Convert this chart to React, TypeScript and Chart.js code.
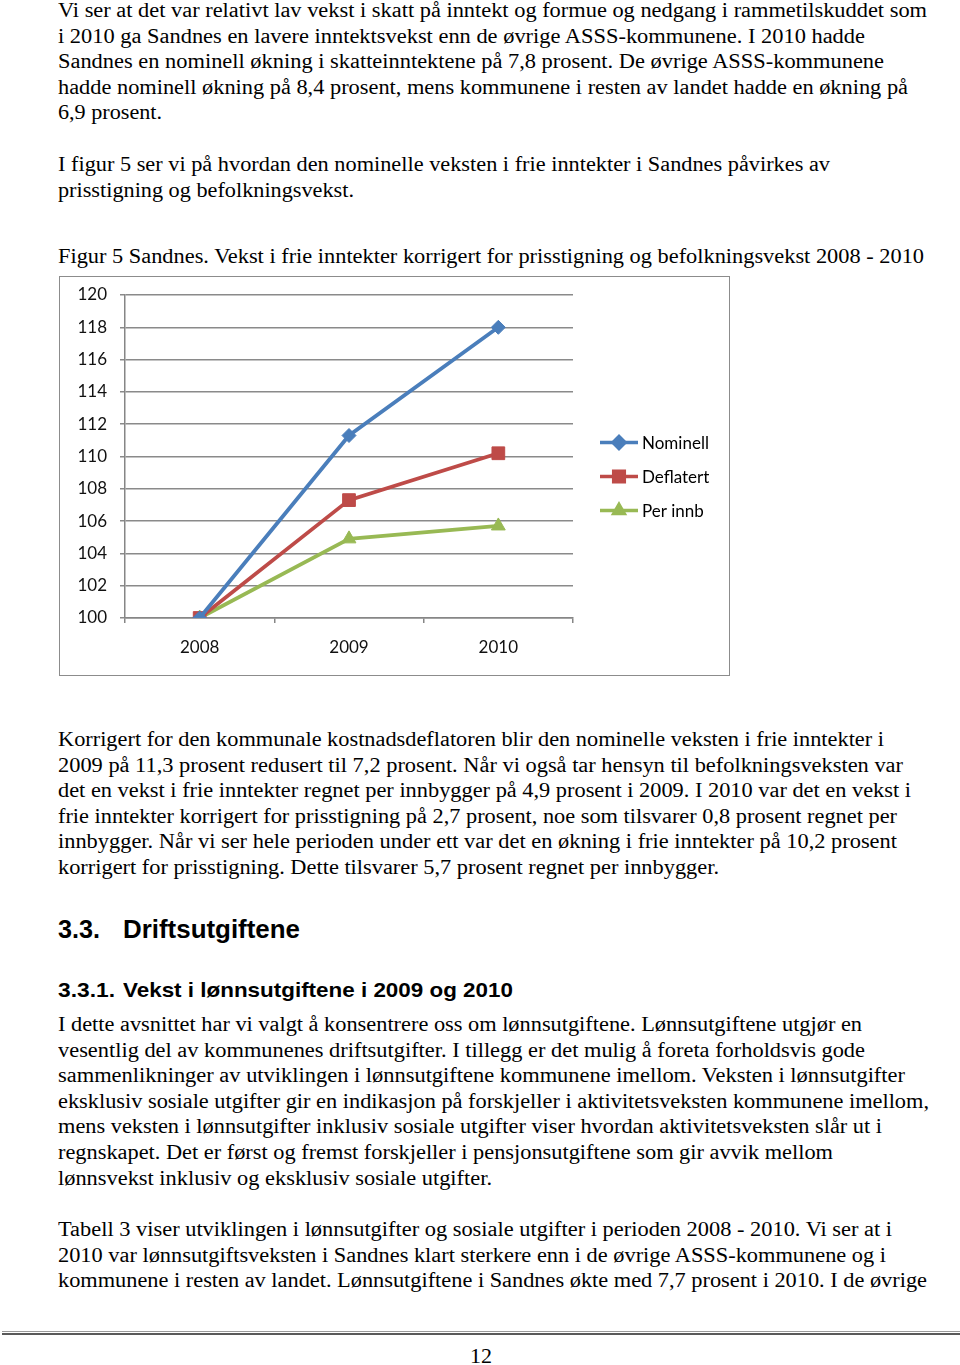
import React, { useEffect, useLayoutEffect, useRef } from "react";
import { Chart, registerables } from "chart.js";
import { drawPoint } from "chart.js/helpers";

Chart.register(...registerables);

// ---------- chart data ----------
const categories = ["2008", "2009", "2010"];
const nominell = [100, 111.3, 118.0];
const deflatert = [100, 107.3, 110.2];
const perInnb = [100, 104.9, 105.7];
const seriesNames = ["Nominell", "Deflatert", "Per innb"];
const yMin = 100;
const yMax = 120;
const yStep = 2;

// ---------- page text ----------
const para1 = [
  "Vi ser at det var relativt lav vekst i skatt på inntekt og formue og nedgang i rammetilskuddet som",
  "i 2010 ga Sandnes en lavere inntektsvekst enn de øvrige ASSS-kommunene. I 2010 hadde",
  "Sandnes en nominell økning i skatteinntektene på 7,8 prosent. De øvrige ASSS-kommunene",
  "hadde nominell økning på 8,4 prosent, mens kommunene i resten av landet hadde en økning på",
  "6,9 prosent.",
];
const para2 = [
  "I figur 5 ser vi på hvordan den nominelle veksten i frie inntekter i Sandnes påvirkes av",
  "prisstigning og befolkningsvekst.",
];
const caption = [
  "Figur 5 Sandnes. Vekst i frie inntekter korrigert for prisstigning og befolkningsvekst 2008 - 2010",
];
const para3 = [
  "Korrigert for den kommunale kostnadsdeflatoren blir den nominelle veksten i frie inntekter i",
  "2009 på 11,3 prosent redusert til 7,2 prosent. Når vi også tar hensyn til befolkningsveksten var",
  "det en vekst i frie inntekter regnet per innbygger på 4,9 prosent i 2009. I 2010 var det en vekst i",
  "frie inntekter korrigert for prisstigning på 2,7 prosent, noe som tilsvarer 0,8 prosent regnet per",
  "innbygger. Når vi ser hele perioden under ett var det en økning i frie inntekter på 10,2 prosent",
  "korrigert for prisstigning. Dette tilsvarer 5,7 prosent regnet per innbygger.",
];
const heading1 = ["3.3.", "Driftsutgiftene"];
const heading2 = ["3.3.1.", "Vekst i lønnsutgiftene i 2009 og 2010"];
const para4 = [
  "I dette avsnittet har vi valgt å konsentrere oss om lønnsutgiftene. Lønnsutgiftene utgjør en",
  "vesentlig del av kommunenes driftsutgifter. I tillegg er det mulig å foreta forholdsvis gode",
  "sammenlikninger av utviklingen i lønnsutgiftene kommunene imellom. Veksten i lønnsutgifter",
  "eksklusiv sosiale utgifter gir en indikasjon på forskjeller i aktivitetsveksten kommunene imellom,",
  "mens veksten i lønnsutgifter inklusiv sosiale utgifter viser hvordan aktivitetsveksten slår ut i",
  "regnskapet. Det er først og fremst forskjeller i pensjonsutgiftene som gir avvik mellom",
  "lønnsvekst inklusiv og eksklusiv sosiale utgifter.",
];
const para5 = [
  "Tabell 3 viser utviklingen i lønnsutgifter og sosiale utgifter i perioden 2008 - 2010. Vi ser at i",
  "2010 var lønnsutgiftsveksten i Sandnes klart sterkere enn i de øvrige ASSS-kommunene og i",
  "kommunene i resten av landet. Lønnsutgiftene i Sandnes økte med 7,7 prosent i 2010. I de øvrige",
];
const pageNumber = "12";

// ---------- layout (positions only) ----------
const LEFT = 58;
const PITCH = 25.6;
const para1Layout = { y: 10, rights: [927, 865, 884, 908, 162] };
const para2Layout = { y: 164, rights: [830, 354] };
const captionLayout = { y: 256, rights: [924] };
const para3Layout = { y: 739, rights: [884, 903, 911, 897, 897, 719] };
const para4Layout = { y: 1024, rights: [862, 865, 905, 929, 882, 833, 492] };
const para5Layout = { y: 1229, rights: [892, 886, 927] };

const SERIF = "'Liberation Serif', 'Times New Roman', serif";
const SANS = "'Liberation Sans', Arial, sans-serif";
const CHART_FONT = "Lato, 'Open Sans', sans-serif";

const COLORS = ["#4a7ebb", "#be4b48", "#98b954"];
const POINT_STYLES: any[] = ["rectRot", "rect", "triangle"];

type FitProps = {
  text: string;
  x: number;
  cy: number;
  right: number;
  family: string;
  size: number;
  weight?: number;
  lh?: number;
};

function FitLine({ text, x, cy, right, family, size, weight = 400, lh = 26 }: FitProps) {
  const ref = useRef<HTMLSpanElement>(null);
  useLayoutEffect(() => {
    const el = ref.current;
    if (!el) return;
    el.style.transform = "none";
    const w = el.getBoundingClientRect().width;
    const target = right - x;
    if (w > 0) el.style.transform = `scaleX(${target / w})`;
  }, [text, x, right, family, size, weight]);
  return (
    <span
      ref={ref}
      style={{
        position: "absolute",
        left: x,
        top: cy - lh / 2,
        whiteSpace: "pre",
        fontFamily: family,
        fontSize: size,
        fontWeight: weight,
        lineHeight: `${lh}px`,
        display: "inline-block",
        transformOrigin: "0 50%",
        color: "#000",
      }}
    >
      {text}
    </span>
  );
}

function Paragraph({ lines, layout }: { lines: string[]; layout: { y: number; rights: number[] } }) {
  return (
    <>
      {lines.map((t, i) => (
        <FitLine
          key={i}
          text={t}
          x={LEFT}
          cy={layout.y + i * PITCH}
          right={layout.rights[i]}
          family={SERIF}
          size={20.5}
        />
      ))}
    </>
  );
}

const legendPlugin = {
  id: "sideLegend",
  afterDraw(chart: any) {
    const { ctx, chartArea } = chart;
    const x0 = chartArea.right + 27;
    const cy = (chartArea.top + chartArea.bottom) / 2 - 14;
    ctx.save();
    chart.data.datasets.forEach((ds: any, i: number) => {
      const y = cy + i * 34;
      ctx.strokeStyle = ds.borderColor;
      ctx.lineWidth = 3.5;
      ctx.beginPath();
      ctx.moveTo(x0, y);
      ctx.lineTo(x0 + 38, y);
      ctx.stroke();
      ctx.fillStyle = ds.borderColor;
      drawPoint(ctx, {
        pointStyle: ds.pointStyle,
        radius: ds.pointStyle === "rect" ? 7.5 : 6,
        borderWidth: 1,
        rotation: 0,
      } as any, x0 + 19, y);
      ctx.fillStyle = "#000";
      ctx.font = `17px ${CHART_FONT}`;
      ctx.textBaseline = "middle";
      ctx.textAlign = "left";
      ctx.fillText(ds.label, x0 + 42, y + 1);
    });
    ctx.restore();
  },
};

function LineChart() {
  const canvasRef = useRef<HTMLCanvasElement>(null);
  useEffect(() => {
    const canvas = canvasRef.current;
    if (!canvas) return;
    const series = [nominell, deflatert, perInnb];
    const chart = new Chart(canvas, {
      type: "line",
      data: {
        labels: categories,
        datasets: series.map((d, i) => ({
          label: seriesNames[i],
          data: d,
          borderColor: COLORS[i],
          backgroundColor: COLORS[i],
          borderWidth: 3.8,
          pointStyle: POINT_STYLES[i],
          pointRadius: i === 1 ? 9 : i === 0 ? 7 : 8,
          pointBorderWidth: 1,
          pointBackgroundColor: COLORS[i],
          pointBorderColor: COLORS[i],
          tension: 0,
        })),
      },
      options: {
        responsive: false,
        animation: false,
        layout: { padding: { left: 0, top: 18, right: 156, bottom: 0 } },
        plugins: {
          legend: { display: false },
          tooltip: { enabled: false },
        },
        scales: {
          x: {
            offset: true,
            grid: {
              display: true,
              offset: true,
              drawOnChartArea: false,
              drawTicks: true,
              tickLength: 5,
              color: "#868686",
              lineWidth: 1.5,
            },
            border: { display: true, color: "#868686", width: 1.5 },
            ticks: {
              color: "#111",
              font: { family: CHART_FONT, size: 17 },
              padding: 14,
            },
            afterFit: (s: any) => {
              s.height = 57;
              s.paddingLeft = 0;
              s.paddingRight = 0;
            },
          },
          y: {
            min: yMin,
            max: yMax,
            ticks: {
              stepSize: yStep,
              color: "#111",
              font: { family: CHART_FONT, size: 17 },
              padding: 13,
            },
            grid: {
              color: "#8a8a8a",
              lineWidth: 1.5,
              tickLength: 5,
            },
            border: { display: true, color: "#868686", width: 1.5 },
            afterFit: (s: any) => {
              s.width = 65;
              s.paddingTop = 0;
              s.paddingBottom = 0;
            },
          },
        },
      },
      plugins: [legendPlugin],
    });
    return () => chart.destroy();
  }, []);
  return <canvas ref={canvasRef} width={669} height={398} style={{ display: "block", width: 669, height: 398 }} />;
}

export default function App() {
  return (
    <div
      style={{
        position: "absolute",
        left: 0,
        top: 0,
        width: 960,
        height: 1365,
        background: "#fff",
        overflow: "hidden",
      }}
    >
      <Paragraph lines={para1} layout={para1Layout} />
      <Paragraph lines={para2} layout={para2Layout} />
      <Paragraph lines={caption} layout={captionLayout} />

      <div
        style={{
          position: "absolute",
          left: 59,
          top: 276,
          width: 671,
          height: 400,
          border: "1px solid #8c8c8c",
          boxSizing: "border-box",
        }}
      >
        <LineChart />
      </div>

      <Paragraph lines={para3} layout={para3Layout} />

      <FitLine text={heading1[0]} x={58} cy={929} right={100} family={SANS} size={25} weight={700} lh={30} />
      <FitLine text={heading1[1]} x={123} cy={929} right={300} family={SANS} size={25} weight={700} lh={30} />
      <FitLine text={heading2[0]} x={58} cy={990} right={115} family={SANS} size={21} weight={700} lh={26} />
      <FitLine text={heading2[1]} x={123} cy={990} right={513} family={SANS} size={21} weight={700} lh={26} />

      <Paragraph lines={para4} layout={para4Layout} />
      <Paragraph lines={para5} layout={para5Layout} />

      <div style={{ position: "absolute", left: 2, top: 1331, width: 958, height: 1, background: "#9a9a9a" }} />
      <div style={{ position: "absolute", left: 2, top: 1333, width: 958, height: 2, background: "#5a5a5a" }} />

      <FitLine text={pageNumber} x={470} cy={1356} right={492} family={SERIF} size={20.5} />
    </div>
  );
}
